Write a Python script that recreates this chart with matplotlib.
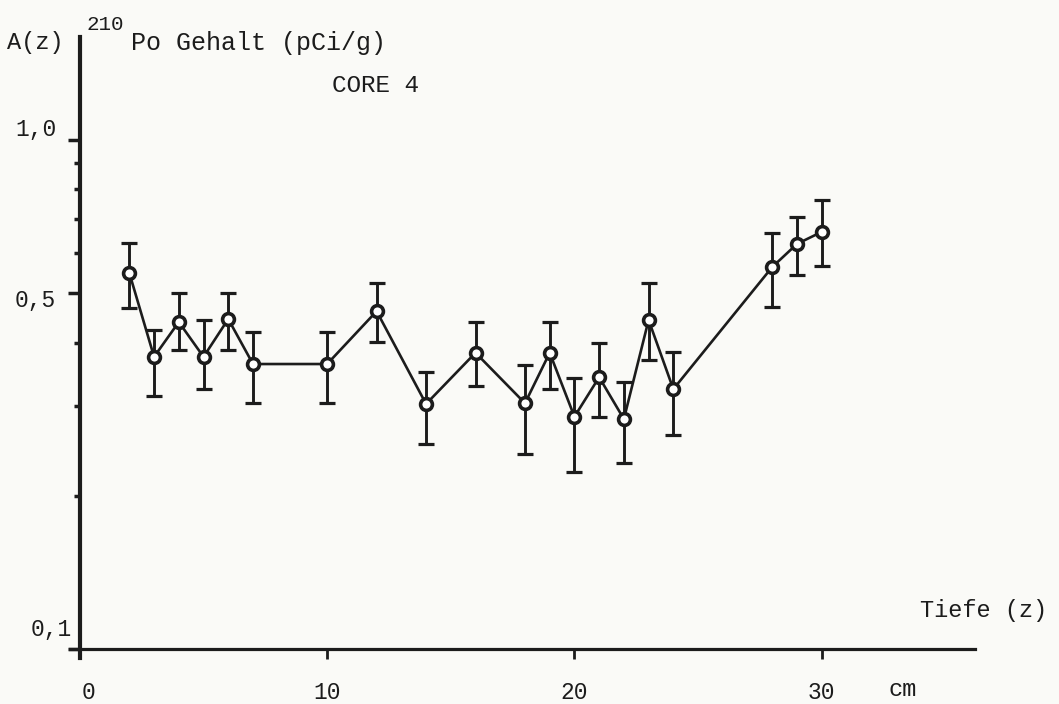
import matplotlib.pyplot as plt
import matplotlib.transforms as mtransforms
from matplotlib.ticker import FixedLocator, NullFormatter

# Tiefe (cm) und 210Po Gehalt (pCi/g)
depth = [2, 3, 4, 5, 6, 7, 10, 12, 14, 16, 18, 19, 20, 21, 22, 23, 24, 28, 29, 30]
activity = [0.548, 0.375, 0.439, 0.375, 0.445, 0.363, 0.363, 0.461, 0.303, 0.382,
            0.304, 0.382, 0.286, 0.342, 0.283, 0.443, 0.324, 0.563, 0.625, 0.660]
err_top = [0.627, 0.423, 0.500, 0.443, 0.500, 0.419, 0.419, 0.524, 0.350, 0.439,
           0.361, 0.439, 0.341, 0.399, 0.335, 0.524, 0.383, 0.657, 0.706, 0.762]
err_bottom = [0.468, 0.314, 0.387, 0.324, 0.387, 0.304, 0.304, 0.401, 0.253, 0.329,
              0.242, 0.324, 0.223, 0.286, 0.232, 0.370, 0.263, 0.470, 0.543, 0.566]

y_major = [0.1, 0.5, 1.0]
y_major_labels = ["0,1", "0,5", "1,0"]
y_minor = [0.2, 0.3, 0.4, 0.6, 0.7, 0.8, 0.9]
x_ticks = [0, 10, 20, 30]
x_labels = ["0", "10", "20", "30"]

INK = "#1c1c1c"
PAPER = "#fafaf7"
FONT = "Liberation Mono"
W, H = 1059, 704

fig = plt.figure(figsize=(W / 100, H / 100), dpi=100, facecolor=PAPER)
ax = fig.add_axes([70 / W, 46 / H, 905 / W, 621 / H])
ax.set_facecolor(PAPER)

ax.set_yscale("log")
ax.set_xlim(-0.4, 36.2)
ax.set_ylim(0.096, 1.594)

lo = [a - b for a, b in zip(activity, err_bottom)]
hi = [t - a for a, t in zip(activity, err_top)]
ax.errorbar(depth, activity, yerr=[lo, hi], fmt="none", ecolor=INK,
            elinewidth=2.1, capsize=6, capthick=2.3, zorder=2)
ax.plot(depth, activity, color=INK, lw=1.9, marker="o", markersize=8.5,
        markerfacecolor="white", markeredgecolor=INK, markeredgewidth=2.6, zorder=3)

# Achsen als Kreuz
for s in ["top", "right"]:
    ax.spines[s].set_visible(False)
ax.spines["left"].set_position(("data", 0))
ax.spines["bottom"].set_position(("data", 0.1))
ax.spines["left"].set_linewidth(3)
ax.spines["bottom"].set_linewidth(2.3)
ax.spines["left"].set_color(INK)
ax.spines["bottom"].set_color(INK)

ax.yaxis.set_major_locator(FixedLocator(y_major))
ax.set_yticklabels(y_major_labels)
ax.yaxis.set_minor_locator(FixedLocator(y_minor))
ax.yaxis.set_minor_formatter(NullFormatter())
ax.tick_params(axis="y", which="major", direction="out", length=9, width=2.5,
               color=INK, pad=8, labelsize=16.5, labelcolor=INK)
ax.tick_params(axis="y", which="minor", direction="out", length=4, width=2.5, color=INK)

ax.set_xticks(x_ticks)
ax.set_xticklabels(x_labels)
ax.tick_params(axis="x", which="major", direction="out", length=7, width=2, color=INK,
               pad=16, labelsize=16.5, labelcolor=INK)

for lab in ax.get_yticklabels() + ax.get_xticklabels():
    lab.set_fontfamily(FONT)

# einzelne Beschriftungen etwas versetzen wie im Original
shifts = {"1,0": (0, 13), "0,5": (0, -5), "0,1": (16, 22)}
for lab in ax.get_yticklabels():
    dx, dy = shifts.get(lab.get_text(), (0, 0))
    lab.set_transform(lab.get_transform() +
                      mtransforms.ScaledTranslation(dx / 100, dy / 100, fig.dpi_scale_trans))
for lab in ax.get_xticklabels():
    if lab.get_text() == "0":
        lab.set_transform(lab.get_transform() +
                          mtransforms.ScaledTranslation(9 / 100, 0, fig.dpi_scale_trans))


def ftext(x, y, s, size=17, **kw):
    fig.text(x / W, 1 - y / H, s, fontsize=size, family=FONT, color=INK,
             va="center", **kw)


ftext(7, 43, "A(z)")
ftext(86, 24, "210", size=15)
ftext(131, 43, "Po Gehalt (pCi/g)", size=18)
ftext(332, 85, "CORE 4", size=17.5)
ftext(920, 610, "Tiefe (z)")
ftext(889, 690, "cm")

fig.savefig("out.png", dpi=100, facecolor=PAPER)
